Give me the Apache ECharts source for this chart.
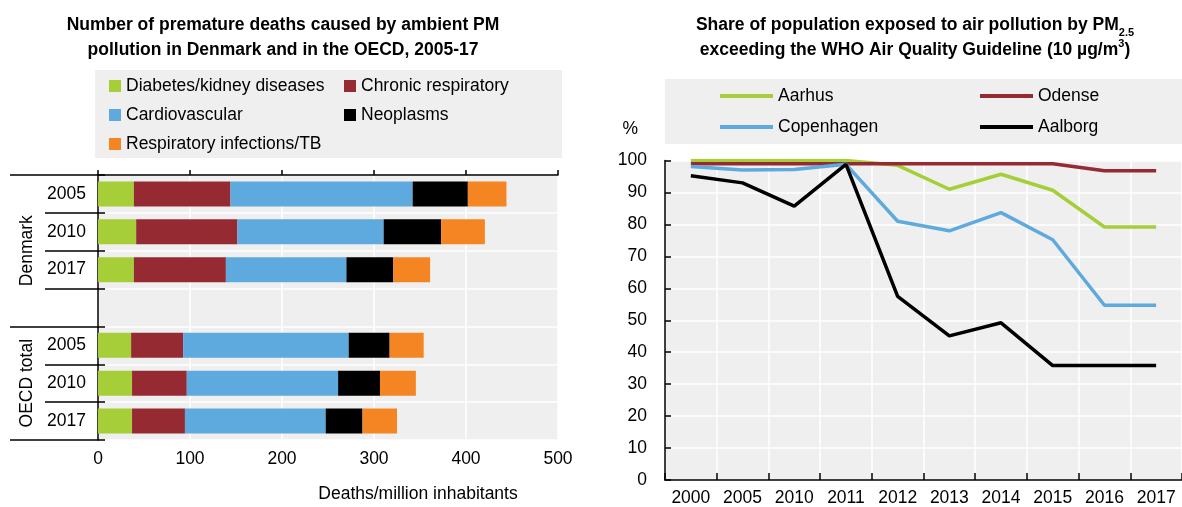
<!DOCTYPE html>
<html>
<head>
<meta charset="utf-8">
<title>Air pollution in Denmark</title>
<script src="https://cdn.jsdelivr.net/npm/echarts@6.0.0/dist/echarts.min.js"></script>
<style>
  html, body { margin: 0; padding: 0; background: #fff; }
  #chart { width: 1182px; height: 507px; }
</style>
</head>
<body>
<div id="chart"></div>
<script>
// 左图：过早死亡人数（每百万居民）
const rowLabels = ['2005', '2010', '2017', '', '2005', '2010', '2017']
const groupNames = ['Denmark', 'OECD total']
const groupBounds = [0, 4, 7]
const causes = ['Diabetes/kidney diseases', 'Chronic respiratory', 'Cardiovascular', 'Neoplasms', 'Respiratory infections/TB']
const diabetes = [39, 41.5, 39, null, 36, 37, 37]
const chronicResp = [105, 110, 100, null, 56.5, 59.5, 57.5]
const cardio = [198, 159, 131, null, 180, 164.5, 153]
const neoplasms = [60, 62.5, 51, null, 44.5, 45.5, 40]
const respInfections = [42, 47.5, 40, null, 37, 39, 37.5]
const deathTicks = [0, 100, 200, 300, 400, 500]

// 右图：PM2.5 超标人口比例
const years = ['2000', '2005', '2010', '2011', '2012', '2013', '2014', '2015', '2016', '2017']
const cities = ['Aarhus', 'Odense', 'Copenhagen', 'Aalborg']
const aarhus = [100, 100, 100, 100, 98.5, 91, 95.7, 90.7, 79.2, 79.2]
const odense = [99, 99, 99, 99, 99, 99, 99, 99, 96.8, 96.8]
const copenhagen = [98.1, 97, 97.2, 98.8, 81, 78, 83.7, 75.2, 54.7, 54.7]
const aalborg = [95.2, 93, 85.7, 98.8, 57.5, 45.1, 49.2, 35.8, 35.8, 35.8]
const shareTicks = [0, 10, 20, 30, 40, 50, 60, 70, 80, 90, 100]

const FONT = "'Liberation Sans Narrow', 'Arial Narrow', 'Liberation Sans', Arial, sans-serif"
const FS = 17.5
const BG = '#efefef'
const barColors = ['#a6ce39', '#952a32', '#5eaade', '#000000', '#f48522']
const lineColors = ['#a6ce39', '#952a32', '#5eaade', '#000000']
const causeData = [diabetes, chronicResp, cardio, neoplasms, respInfections]
const cityData = [aarhus, odense, copenhagen, aalborg]
const leftColumn = [0, 2, 4] // 图例左列

const chart = echarts.init(document.getElementById('chart'))

const option = {
  animation: false,
  textStyle: { fontFamily: FONT, color: '#000' },
  title: [
    {
      text: 'Number of premature deaths caused by ambient PM\npollution in Denmark and in the OECD, 2005-17',
      left: 283,
      top: 13,
      padding: 0,
      textAlign: 'center',
      textStyle: { fontFamily: FONT, fontSize: 17.5, fontWeight: 'bold', lineHeight: 25, color: '#000' }
    },
    {
      text: '{t|Share of population exposed to air pollution by PM}{s|2.5}\n{t|exceeding the WHO Air Quality Guideline (10 µg/m}{p|3}{t|)}',
      left: 915,
      top: 13,
      padding: 0,
      textAlign: 'center',
      textStyle: {
        rich: {
          t: { fontFamily: FONT, fontSize: 17.5, fontWeight: 'bold', lineHeight: 25, color: '#000' },
          s: { fontFamily: FONT, fontSize: 11, fontWeight: 'bold', lineHeight: 12, verticalAlign: 'bottom', color: '#000' },
          p: { fontFamily: FONT, fontSize: 11, fontWeight: 'bold', lineHeight: 14, verticalAlign: 'top', color: '#000' }
        }
      }
    },
    {
      text: 'Deaths/million inhabitants',
      left: 418,
      top: 485,
      padding: 0,
      textAlign: 'center',
      textStyle: { fontFamily: FONT, fontSize: FS, fontWeight: 'normal', color: '#000' }
    }
  ],
  legend: [
    {
      left: 95,
      top: 70,
      width: 450,
      padding: [5, 11, 3, 14],
      backgroundColor: BG,
      icon: 'rect',
      itemWidth: 12,
      itemHeight: 12,
      itemGap: 7,
      textStyle: { fontFamily: FONT, fontSize: FS, lineHeight: 22, color: '#000' },
      data: causes.map((name, i) => ({ name, textStyle: { width: leftColumn.includes(i) ? 211 : 190 } }))
    },
    {
      left: 665,
      top: 79,
      width: 520,
      padding: [5, 10, 5, 55],
      backgroundColor: BG,
      icon: 'rect',
      itemWidth: 53,
      itemHeight: 4,
      itemGap: 7,
      textStyle: { fontFamily: FONT, fontSize: FS, lineHeight: 24, color: '#000', width: 195 },
      data: cities
    }
  ],
  grid: [
    { left: 98, top: 175, width: 460, height: 265, show: true, backgroundColor: BG, borderWidth: 0 },
    { left: 665, top: 160.5, width: 530, height: 320, show: true, backgroundColor: BG, borderWidth: 0 }
  ],
  xAxis: [
    {
      gridIndex: 0,
      type: 'value',
      min: 0,
      max: 500,
      interval: 100,
      axisLine: { show: true, lineStyle: { color: '#000', width: 1.5 } },
      axisTick: { show: true, inside: true, length: 5, lineStyle: { color: '#000', width: 1.5 } },
      axisLabel: { fontFamily: FONT, fontSize: FS, color: '#000', margin: 10, formatter: v => deathTicks.includes(v) ? String(v) : '' },
      splitLine: { show: true, lineStyle: { color: '#fff', width: 1.5 } }
    },
    {
      gridIndex: 1,
      type: 'category',
      data: years,
      boundaryGap: true,
      axisLine: { show: true, lineStyle: { color: '#000', width: 1.5 } },
      axisTick: { show: true, inside: true, length: 7, interval: 0, lineStyle: { color: '#000', width: 1.5 } },
      axisLabel: { fontFamily: FONT, fontSize: FS, color: '#000', margin: 9, interval: 0 },
      splitLine: { show: true, interval: 0, lineStyle: { color: '#fff', width: 1.5 } }
    }
  ],
  yAxis: [
    {
      // 年份类目轴
      gridIndex: 0,
      type: 'category',
      data: rowLabels,
      inverse: true,
      axisLine: { show: true, lineStyle: { color: '#000', width: 1.5 } },
      axisTick: { show: true, length: 53, interval: 0, lineStyle: { color: '#000', width: 1.5 } },
      axisLabel: { fontFamily: FONT, fontSize: FS, color: '#000', margin: 12, interval: 0 },
      splitLine: { show: true, interval: 0, lineStyle: { color: '#fff', width: 1.5 } }
    },
    {
      // 分组：Denmark / OECD total
      gridIndex: 0,
      type: 'value',
      min: 0,
      max: 7,
      inverse: true,
      position: 'left',
      axisLine: { show: false },
      axisTick: { show: true, length: 88, customValues: groupBounds, lineStyle: { color: '#000', width: 1.5 } },
      axisLabel: {
        fontFamily: FONT, fontSize: FS, color: '#000', rotate: 90, margin: 62,
        customValues: [(groupBounds[0] + groupBounds[1]) / 2, (groupBounds[1] + groupBounds[2]) / 2],
        formatter: v => (v < groupBounds[1] ? groupNames[0] : groupNames[1])
      },
      splitLine: { show: false }
    },
    {
      // 刻度线穿过轴线的一小段
      gridIndex: 0,
      type: 'value',
      min: 0,
      max: 7,
      interval: 1,
      inverse: true,
      position: 'left',
      axisLine: { show: false },
      axisTick: { show: true, inside: true, length: 7, lineStyle: { color: '#000', width: 1.5 } },
      axisLabel: { show: false },
      splitLine: { show: false }
    },
    {
      gridIndex: 1,
      type: 'value',
      min: 0,
      max: 100,
      interval: 10,
      axisLine: { show: true, lineStyle: { color: '#000', width: 1.5 } },
      axisTick: { show: true, inside: true, length: 6, lineStyle: { color: '#000', width: 1.5 } },
      axisLabel: { fontFamily: FONT, fontSize: FS, color: '#000', margin: 18, formatter: v => shareTicks.includes(v) ? String(v) : '' },
      splitLine: { show: true, lineStyle: { color: '#fff', width: 1.5 } },
      name: '%',
      nameLocation: 'end',
      nameGap: 22,
      nameTextStyle: { fontFamily: FONT, fontSize: FS, color: '#000', align: 'right', padding: [0, 27, 0, 0] }
    }
  ],
  series: [
    ...causes.map((name, i) => ({
      name,
      type: 'bar',
      stack: 'deaths',
      xAxisIndex: 0,
      yAxisIndex: 0,
      barWidth: 25,
      itemStyle: { color: barColors[i] },
      data: causeData[i]
    })),
    ...cities.map((name, i) => ({
      name,
      type: 'line',
      xAxisIndex: 1,
      yAxisIndex: 3,
      symbol: 'none',
      lineStyle: { color: lineColors[i], width: 3.5 },
      itemStyle: { color: lineColors[i] },
      data: cityData[i]
    }))
  ]
}

chart.setOption(option)
</script>
</body>
</html>
